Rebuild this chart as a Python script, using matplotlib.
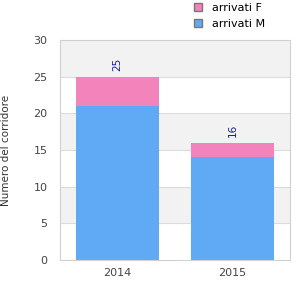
import numpy as np
import matplotlib
matplotlib.use("Agg")
from matplotlib import pyplot as plt
from matplotlib.patches import Patch

years = ["2014", "2015"]
arrivati_m = [21, 14]
arrivati_f = [4, 2]
col_m = "#60a9f4"
col_f = "#f283bb"

fig = plt.figure(figsize=(3, 3), dpi=100)
ax = fig.add_axes([60 / 300, 40 / 300, 230 / 300, 220 / 300])

# alternating bands
for lo in range(0, 30, 5):
    if (lo // 5) % 2 == 1:
        ax.axhspan(lo, lo + 5, color="#f2f2f2", zorder=0, lw=0)
for y in range(5, 30, 5):
    ax.axhline(y, color="#dcdcdc", lw=0.8, zorder=0.5)

x = np.arange(len(years))
ax.bar(x, arrivati_m, width=0.72, color=col_m, zorder=2)
ax.bar(x, arrivati_f, bottom=arrivati_m, width=0.72, color=col_f, zorder=2)
totals = [m + f for m, f in zip(arrivati_m, arrivati_f)]
for xi, t in zip(x, totals):
    ax.text(xi, t + 0.8, str(t), rotation=90, ha="center", va="bottom",
            fontsize=7.5, color="#1a1aa0")

ax.set_xlim(-0.5, 1.5)
ax.set_ylim(0, 30)
ax.set_xticks(x)
ax.set_xticklabels(years)
ax.set_yticks(range(0, 31, 5))
ax.tick_params(length=0, labelsize=8, colors="#444444", pad=6)
ax.tick_params(axis="y", pad=9)
for s in ax.spines.values():
    s.set_color("#d0d0d0")
ax.set_ylabel("Numero del corridore", fontsize=7.5, color="#333333", labelpad=16)

handles = [Patch(facecolor=col_f, edgecolor="#777777", label="arrivati F"),
           Patch(facecolor=col_m, edgecolor="#777777", label="arrivati M")]
fig.legend(handles=handles, loc="upper left", bbox_to_anchor=(188 / 300, 1.01),
           frameon=False, fontsize=8, handlelength=0.8, handleheight=0.8,
           labelspacing=0.55, handletextpad=0.9, borderaxespad=0.1)

fig.savefig("out.png", dpi=100)
